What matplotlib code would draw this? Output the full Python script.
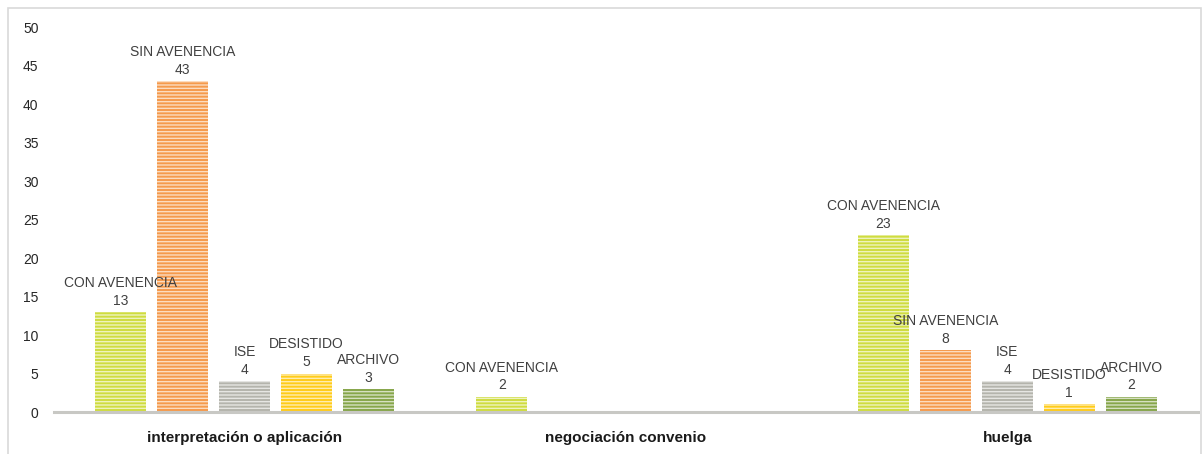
import numpy as np
import matplotlib.pyplot as plt
import matplotlib.colors as mcolors
from matplotlib.patches import Rectangle

plt.rcParams['font.family'] = ['Liberation Sans', 'DejaVu Sans']
plt.rcParams['hatch.linewidth'] = 1.0

categorias = ['interpretación o aplicación', 'negociación convenio', 'huelga']
series = ['CON AVENENCIA', 'SIN AVENENCIA', 'ISE', 'DESISTIDO', 'ARCHIVO']
valores = {
    'CON AVENENCIA': [13, 2, 23],
    'SIN AVENENCIA': [43, 0, 8],
    'ISE': [4, 0, 4],
    'DESISTIDO': [5, 0, 1],
    'ARCHIVO': [3, 0, 2],
}
colores = ['#cfdc3f', '#f59a4c', '#b4b4ac', '#ffcc1a', '#86a64a']


def aclarar(c, f=0.65):
    r, g, b = mcolors.to_rgb(c)
    return (r + (1 - r) * f, g + (1 - g) * f, b + (1 - b) * f)


fig = plt.figure(figsize=(12.02, 4.54), dpi=100)
ax = fig.add_axes([0.0447, 0.0925, 0.952, 0.848])

x = np.arange(len(categorias))
paso = 0.1625
ancho = 0.134
for i, s in enumerate(series):
    pos = x + (i - 2) * paso
    vals = valores[s]
    ax.bar(pos, vals, width=ancho, color=colores[i], edgecolor=aclarar(colores[i]),
           linewidth=0, hatch='-----', zorder=2)
    for p, v in zip(pos, vals):
        if v > 0:
            ax.annotate(f'{s}\n{v}', (p, v), xytext=(0, 3), textcoords='offset points',
                        ha='center', va='bottom', fontsize=10, color='#404040',
                        linespacing=1.35, zorder=3)

ax.set_xlim(-0.5, 2.5)
ax.set_ylim(0, 50)
ax.set_yticks(range(0, 51, 5))
ax.set_xticks(x)
ax.set_xticklabels(categorias, fontweight='bold', fontsize=11, color='#1a1a1a')
ax.tick_params(axis='x', length=0, pad=14)
ax.tick_params(axis='y', length=0, pad=11, labelsize=10, labelcolor='#262626')
for lado in ['top', 'right', 'left']:
    ax.spines[lado].set_visible(False)
ax.spines['bottom'].set_color('#c8c8c4')
ax.spines['bottom'].set_linewidth(2.2)
ax.spines['bottom'].set_zorder(4)

# marco exterior del gráfico
fig.patches.append(Rectangle((8 / 1202, -0.02), 1193 / 1202, 1 - 8 / 454 + 0.02,
                             transform=fig.transFigure, fill=False,
                             edgecolor='#d9d9d9', linewidth=1.2))

fig.savefig('out.png', dpi=100)
